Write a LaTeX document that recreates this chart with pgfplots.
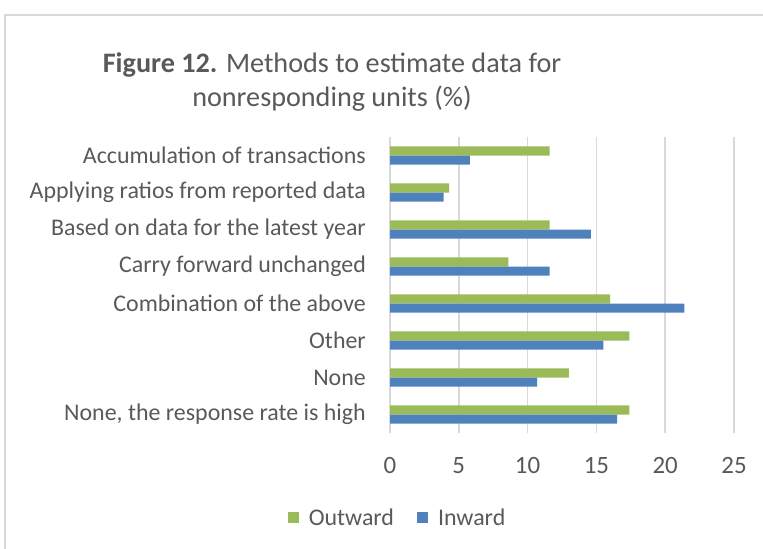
\documentclass[border=0pt]{standalone}
\usepackage{pgfplots}
\pgfplotsset{compat=1.18}
\usepackage{fontspec}
\setmainfont{Carlito}
\definecolor{tx}{HTML}{595959}
\definecolor{gr}{HTML}{9BBB59}
\definecolor{bl}{HTML}{4F81BD}
\definecolor{gl}{HTML}{D9D9D9}
\begin{document}
\begin{tikzpicture}[x=1bp,y=1bp]
\path[use as bounding box] (0,0) rectangle (763,-549);
\draw[gl, line width=1.5bp] (5,-549) -- (5,-15) -- (763,-15);
\node[tx, font=\fontsize{28.3}{35}\selectfont, align=center] at (332,-82) {\textbf{Figure 12.} Methods to estimate data for\\nonresponding units (\%)};
\begin{axis}[
  at={(390bp,-433bp)}, anchor=south west, scale only axis,
  width=344bp, height=296bp,
  xbar, xmin=0, xmax=25, ymin=-0.5, ymax=7.5,
  xtick={0,5,...,25}, ytick={0,...,7},
  yticklabels={{None, the response rate is high},None,Other,Combination of the above,Carry forward unchanged,Based on data for the latest year,Applying ratios from reported data,Accumulation of transactions},
  xmajorgrids, grid style={gl, line width=1.5bp},
  axis line style={draw=none}, major tick length=0pt, tick style={draw=none},
  yticklabel style={font=\fontsize{24}{28}\selectfont, text=tx, inner sep=0pt, xshift=-24bp},
  xticklabel style={font=\fontsize{25}{28}\selectfont, text=tx, inner sep=0pt, yshift=-24bp},
  /pgf/number format/assume math mode=true,
  legend style={at={(0.019,-0.287)}, anchor=center, draw=none, fill=none, legend columns=2,
    font=\fontsize{24}{28}\selectfont, text=tx,
    nodes={inner sep=0pt},
    /tikz/every odd column/.append style={column sep=10bp},
    /tikz/every even column/.append style={column sep=23bp}},
  legend image code/.code={\fill[#1] (0bp,-5.5bp) rectangle (11bp,5.5bp);},
  clip=false,
]
\addplot[fill=gr, draw=none, bar shift=4.6bp, bar width=9.2bp] coordinates {(17.4,0) (13.0,1) (17.4,2) (16.0,3) (8.6,4) (11.6,5) (4.3,6) (11.6,7)};
\addplot[fill=bl, draw=none, bar shift=-4.6bp, bar width=9.2bp] coordinates {(16.5,0) (10.7,1) (15.5,2) (21.4,3) (11.6,4) (14.6,5) (3.9,6) (5.8,7)};
\legend{Outward, Inward}
\end{axis}
\end{tikzpicture}
\end{document}
